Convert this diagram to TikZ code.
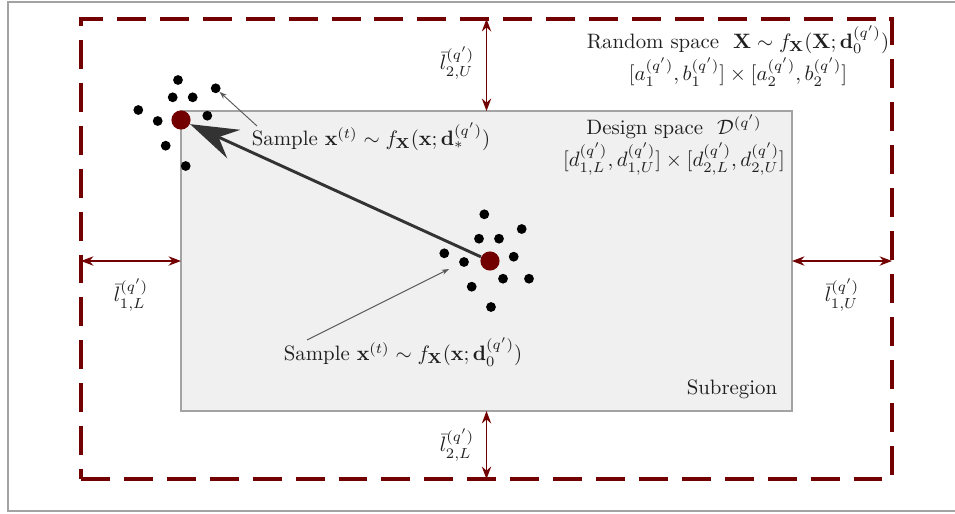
\documentclass[tikz,border=0pt]{standalone}
\usepackage{amsmath}
\usepackage{tikz}
\usetikzlibrary{arrows.meta,positioning,calc}
\definecolor{SpaceRed}{HTML}{720000}
\definecolor{DesignGray}{HTML}{F0F0F0}
\definecolor{EdgeGray}{HTML}{A3A3A3}
\definecolor{ArrowDark}{HTML}{333333}

\begin{document}
\begin{tikzpicture}[x=0.48pt, y=-0.48pt,
    randbox/.style={draw=SpaceRed, line width=1.9pt, dash pattern=on 13.9pt off 6.7pt, outer sep=0pt, minimum width=389.28pt, minimum height=220.8pt},
    designbox/.style={draw=EdgeGray, fill=DesignGray, line width=0.6pt, outer sep=0pt, minimum width=293.28pt, minimum height=144pt},
    sample/.style={circle, fill=black, inner sep=0pt, minimum size=4.7pt},
    mean/.style={circle, fill=SpaceRed, inner sep=0pt, minimum size=9.2pt},
    gap/.style={SpaceRed, line width=0.6pt, {Stealth[length=6pt,width=4.5pt,inset=2pt]}-{Stealth[length=6pt,width=4.5pt,inset=2pt]}},
    pointer/.style={gray!70!black, line width=0.45pt, -{Stealth[length=3.5pt,width=2.5pt]}},
    move/.style={ArrowDark, line width=1.4pt, -{Stealth[length=23pt,width=15pt,inset=8pt]}},
    lab/.style={font=\normalsize, text=black!88}
]
    \useasboundingbox (0,0) rectangle (955,513);
    \draw[EdgeGray, line width=0.6pt] (8,2) rectangle (962,511);

    % spaces
    \node[randbox] (random) at (486.5,249) {};
    \node[designbox] (design) at (486.5,261) {};

    % distances between the two spaces
    \draw[gap] (design.north) -- (design.north |- random.north);
    \draw[gap] (design.south) -- (design.south |- random.south);
    \draw[gap] (design.west) -- (design.west -| random.west);
    \draw[gap] (design.east) -- (design.east -| random.east);
    \node[lab] (l2U) at (457,63) {$\bar{l}_{2,U}^{(q')}$};
    \node[lab] (l2L) at (457,445) {$\bar{l}_{2,L}^{(q')}$};
    \node[lab] (l1L) at (131,295) {$\bar{l}_{1,L}^{(q')}$};
    \node[lab] (l1U) at (842,295) {$\bar{l}_{1,U}^{(q')}$};

    \node[lab, align=center] (randtext) at (738,56) {Random space\ \ $\mathbf{X}\sim f_{\mathbf{X}}(\mathbf{X};\mathbf{d}_0^{(q')})$\\[1pt] $[a_1^{(q')},b_1^{(q')}]\times[a_2^{(q')},b_2^{(q')}]$};
    \node[lab, align=center] (designtext) at (674,145) {Design space\ \ $\mathcal{D}^{(q')}$\\[1pt] $[d_{1,L}^{(q')},d_{1,U}^{(q')}]\times[d_{2,L}^{(q')},d_{2,U}^{(q')}]$};
    \node[lab] (subtext) at (732,389) {Subregion};

    % samples around the two means
    \foreach \px/\py [count=\i] in {178/80, 215.7/88.3, 172.7/97.3, 192.7/97.3, 138.3/110, 157.7/121, 207.3/115.7, 165.7/145.7, 185.7/166}
        \node[sample] (s\i) at (\px,\py) {};
    \foreach \px/\py [count=\i] in {484.3/214.3, 521.7/229, 479/238.7, 499/238.7, 444.3/253.3, 464/262, 513.7/256.7, 503/278.7, 529/278.7, 471.7/286.7, 491/307}
        \node[sample] (t\i) at (\px,\py) {};
    \node[mean] (meanstar) at (181,120) {};
    \node[mean] (meanzero) at (490,261) {};
    \draw[move] (meanzero) -- (meanstar);

    \node[lab] (sampstar) at (371,137) {Sample $\mathbf{x}^{(t)}\sim f_{\mathbf{X}}(\mathbf{x};\mathbf{d}_*^{(q')})$};
    \node[lab] (sampzero) at (403,352) {Sample $\mathbf{x}^{(t)}\sim f_{\mathbf{X}}(\mathbf{x};\mathbf{d}_0^{(q')})$};
    \coordinate (pstar) at (257,126);
    \coordinate (pzero) at (307,340);
    \coordinate (pzeroend) at (449,269);
    \draw[pointer] (pstar) -- (s2);
    \draw[pointer] (pzero) -- (pzeroend);
\end{tikzpicture}
\end{document}
